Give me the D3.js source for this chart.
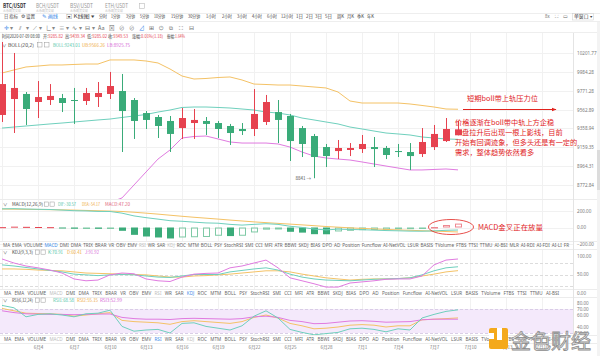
<!DOCTYPE html>
<html><head><meta charset="utf-8">
<script src="https://cdn.jsdelivr.net/npm/d3@7"></script>
<style>
body{margin:0;background:#fff;overflow:hidden}
svg{display:block;font-family:"Noto Sans CJK SC","Noto Sans",sans-serif}
</style></head><body>
<svg id="c" width="600" height="356"></svg>
<script>
// ---------------- DATA ----------------
const dates = ["2020-06-01","2020-06-02","2020-06-03","2020-06-04","2020-06-05","2020-06-06","2020-06-07","2020-06-08","2020-06-09","2020-06-10",
"2020-06-11","2020-06-12","2020-06-13","2020-06-14","2020-06-15","2020-06-16","2020-06-17","2020-06-18","2020-06-19","2020-06-20",
"2020-06-21","2020-06-22","2020-06-23","2020-06-24","2020-06-25","2020-06-26","2020-06-27","2020-06-28","2020-06-29","2020-06-30",
"2020-07-01","2020-07-02","2020-07-03","2020-07-04","2020-07-05","2020-07-06","2020-07-07","2020-07-08","2020-07-09"];
const open  = [9504,9679,9735,9646,9668,9690,9668,9657,9701,9735,9768,9668,9525,9482,9439,9363,9417,9439,9417,9385,9353,9353,9428,9536,9493,9363,9278,9162,9120,9131,9141,9162,9152,9120,9110,9089,9162,9225,9285.82];
const high  = [10331,10202,9757,9880,9846,9735,9802,9802,9869,9983,9960,9690,9547,9504,9493,9580,9569,9482,9439,9407,9417,9790,9724,9668,9515,9385,9300,9194,9236,9204,9289,9268,9173,9194,9204,9363,9396,9471,9439.34];
const low   = [9428,9310,9396,9471,9613,9536,9407,9613,9591,9679,9110,9247,9353,9257,9110,9247,9247,9289,9257,9183,9289,9278,9396,9204,9017,9058,8841,8955,9037,9068,9100,8955,9037,9058,8925,9058,9131,9215,9285.02];
const close = [9846,9802,9569,9701,9713,9635,9657,9746,9746,9824,9547,9439,9450,9385,9300,9471,9450,9407,9353,9310,9331,9515,9646,9450,9225,9194,9058,9068,9152,9152,9194,9141,9079,9110,9068,9215,9300,9353,9349.53];
const bollMid = [9363,9374,9385,9396,9407,9417,9428,9439,9450,9460,9477,9493,9509,9536,9558,9586,9591,9591,9586,9580,9569,9558,9536,9525,9504,9471,9450,9428,9407,9374,9353,9331,9310,9300,9289,9268,9257,9247,9243.01];
const bollUb  = [9971,10006,10040,10051,10063,10063,10069,10074,10074,10121,10121,10121,10109,10086,10017,9937,9903,9909,9920,9926,9892,9846,9841,9835,9835,9824,9813,9802,9757,9657,9635,9635,9635,9635,9624,9608,9591,9569,9566.26];
const bollLb  = [8500,8510,8520,8530,8540,8550,8560,8570,8580,8600,8644,8773,8904,9037,9131,9257,9273,9278,9247,9215,9204,9204,9204,9194,9162,9110,9068,9048,9037,9027,9007,8986,8965,8945,8925,8925,8930,8935,8925.75];
const macdDif  = [226,228,224,221,218,211,203.5,201,195,194,174,140.5,119.5,101.5,82.5,75.5,65,55.5,52,38,29,38,46,38,15,1,-18.5,-29,-20,-24,-27,-32,-37,-40,-44,-45,-41,-34,-30.57];
const macdDea  = [224,222,220,218,216,214,211,207,203,199,194,185,174,162,149,136,124,113,102,90,79,68,59,50,41,32,22,12,4,-4,-11,-17,-23,-29,-34,-39,-44,-49,-54.17];
const macdHist = [4,12,8,6,4,-6,-15,-12,-16,-10,-40,-89,-109,-121,-133,-121,-118,-115,-100,-104,-100,-60,-26,-24,-52,-62,-81,-82,-48,-40,-32,-30,-28,-22,-20,-12,6,30,47.2];
const kdjK = [76,73,69,65,61,57,51,49,47,49,50,49,46,43,42,46,50,50,50,57,61,65,68,62,51,43,38,35,34,33,35,37,38,39,41,49,60,68,70.91];
const kdjD = [65,65,64,62,61,60,57,54,53,52,51,50,49,46,43,43,46,47,49,51,54,57,60,60,57,51,46,41,38,35,37,38,38,39,41,46,51,57,60.41];
const kdjJ = [92,81,73,68,62,54,38,33,35,49,54,52,38,33,31,43,51,53,54,68,73,81,89,68,41,33,25,16,16,27,30,33,37,38,38,46,76,89,91.92];
const rsi1 = [76,72,57,61,62,60,57,62,63,68,41,33,35,36,30,46,47,41,38,35,42,58,67,55,36,31,27,29,31,37,38,36,32,37,35,55,61,66,68.58];
const rsi2 = [71,67,63,62.5,62,61,58,60,62,64,51,49,48,47,44.5,49,50.5,49,47.5,46,49,56,60,55,46,42,37,38,40,43,44,43,40,42,42,52,53,54,55.15];
const rsi3 = [67,64,62,61.5,61,61,60.5,61,61.5,61.7,56,54,53,53,52.5,54,54.5,54,53.5,53,54,57,58,56,51,49,45.5,46,48,50,50.5,49.5,48,48.5,49,52,53,53,52.99];
const priceTicks = [10201.77,9984.28,9771.28,9562.89,9358.94,9159.35,8964.31,8772.84];
const macdTicks = [200,0,-200];
const kdjTicks = [100,50,0];
const kdjLevels = [80,50,20];
const rsiTicks = [80,70,60,40,30];
const rsiBand = [30,70];
const dateTicks = ["2020-06-01","2020-06-04","2020-06-07","2020-06-10","2020-06-13","2020-06-16","2020-06-19","2020-06-22","2020-06-25","2020-06-28",
"2020-07-01","2020-07-04","2020-07-07","2020-07-10","2020-07-13","2020-07-16"];
const tabWordsA = ["MA","EMA","VOLUME","MACD","DMI","DMA","TRIX","BRAR","VR","OBV","EMV","RSI","WR","SAR","KDJ","ROC","MTM","BOLL","PSY","StochRSI","SMI","CCI","MFI","ATR","BBWI","SKDJ","BIAS","DPO","AD","Position","Funcflow","AI-NetVOL","LSUR","BASIS","TVolume","FTBS","TTSI","TTMU","AI-BSI","MLR","AI-RDI","AI-FDI","AI-LI","FR"];
const tabWordsB = ["MA","EMA","VOLUME","MACD","DMI","DMA","TRIX","BRAR","VR","OBV","EMV","RSI","WR","SAR","KDJ","ROC","MTM","BOLL","PSY","StochRSI","SMI","CCI","MFI","ATR","BBWI","SKDJ","BIAS","DPO","AD","Position","Funcflow","AI-NetVOL","LSUR","BASIS","TVolume","FTBS","TTSI","TTMU","AI-BSI"];
const symbols = ["BTC/USDT","BCH/USDT","BSV/USDT","ETH/USDT"];
const periods = ["分时","1分钟","3分钟","5分钟","10分钟","15分钟","30分钟","1小时","2小时","3小时","4小时","6小时","12小时","1日","2日","3日","5日","周K","月K","季K","年K"];

// ---------------- SETUP ----------------
const svg = d3.select("#c");
const RED="#e6424f", GREEN="#3aab79", TEAL="#6fd0bd", ORANGE="#f4c266", PINK="#e07be0";
const AX="#7a7a7a", GRID="#f1f1f1";
const PR = 573;
const parse = d3.utcParse("%Y-%m-%d");
const D = dates.map(parse);
const x = d3.scaleUtc().domain([Date.UTC(2020,5,1), Date.UTC(2020,6,19)]).range([2, 578]);
const yP = d3.scaleLog().domain([8772.84, 10201.77]).range([185, 53]);
const yM = d3.scaleLinear().domain([-200,200]).range([244,211]);
const yK = d3.scaleLinear().domain([0,100]).range([293,256]);
const yR = d3.scaleLinear().domain([30,70]).range([333,309]);

const defs = svg.append("defs");
function clip(id,y0,y1){defs.append("clipPath").attr("id",id).append("rect").attr("x",0).attr("y",y0).attr("width",PR).attr("height",y1-y0);}
clip("cm",33,199); clip("cma",199,241); clip("ck",249,289); clip("cr",297,335);

[[33,199],[199,241],[249,289],[297,335]].forEach(([a,b])=>{
  svg.append("g").selectAll("line").data(dateTicks.map(parse)).join("line")
   .attr("x1",d=>Math.round(x(d))+0.5).attr("x2",d=>Math.round(x(d))+0.5).attr("y1",a).attr("y2",b)
   .attr("stroke",GRID).attr("stroke-width",1);
});
svg.append("g").selectAll("line").data(priceTicks).join("line")
  .attr("x1",0).attr("x2",PR).attr("y1",d=>Math.round(yP(d))+0.5).attr("y2",d=>Math.round(yP(d))+0.5)
  .attr("stroke",GRID);
svg.append("g").selectAll("line").data(macdTicks).join("line")
  .attr("x1",0).attr("x2",PR).attr("y1",d=>Math.round(yM(d))+0.5).attr("y2",d=>Math.round(yM(d))+0.5)
  .attr("stroke",GRID);
svg.append("g").selectAll("line").data(kdjLevels).join("line")
  .attr("x1",0).attr("x2",PR).attr("y1",d=>Math.round(yK(d))+0.5).attr("y2",d=>Math.round(yK(d))+0.5)
  .attr("stroke","#dcdcdc").attr("stroke-dasharray","3,2");
svg.append("rect").attr("x",0).attr("width",PR).attr("y",yR(rsiBand[1])).attr("height",yR(rsiBand[0])-yR(rsiBand[1])).attr("fill","#f4e9fb");
svg.append("g").selectAll("line").data(rsiBand).join("line")
  .attr("x1",0).attr("x2",PR).attr("y1",d=>Math.round(yR(d))+0.5).attr("y2",d=>Math.round(yR(d))+0.5)
  .attr("stroke","#d9cde6").attr("stroke-dasharray","3,2");

[199,241,249,289,297,335,343].forEach(y=>svg.append("line").attr("x1",0).attr("x2",597).attr("y1",y+0.5).attr("y2",y+0.5).attr("stroke","#ececec"));
svg.append("line").attr("x1",PR+0.5).attr("x2",PR+0.5).attr("y1",33).attr("y2",343).attr("stroke","#e4e4e4");

// ---------------- MAIN ----------------
const gm = svg.append("g").attr("clip-path","url(#cm)");
const lineP = arr => d3.line().x((d,i)=>x(D[i])).y(d=>yP(d))(arr);
gm.append("path").attr("d",lineP(bollUb)).attr("fill","none").attr("stroke",ORANGE).attr("stroke-width",1);
gm.append("path").attr("d",lineP(bollMid)).attr("fill","none").attr("stroke",TEAL).attr("stroke-width",1);
gm.append("path").attr("d",lineP(bollLb)).attr("fill","none").attr("stroke",PINK).attr("stroke-width",1);
const cd = D.map((d,i)=>({d,o:open[i],h:high[i],l:low[i],c:close[i]}));
const cg = gm.append("g").selectAll("g").data(cd).join("g");
cg.append("line").attr("x1",d=>Math.round(x(d.d))+0.5).attr("x2",d=>Math.round(x(d.d))+0.5)
  .attr("y1",d=>yP(d.h)).attr("y2",d=>yP(d.l)).attr("stroke",d=>d.c>=d.o?RED:GREEN).attr("stroke-width",1);
cg.append("rect").attr("x",d=>Math.round(x(d.d))-3).attr("width",7)
  .attr("y",d=>yP(Math.max(d.o,d.c))).attr("height",d=>Math.max(1,yP(Math.min(d.o,d.c))-yP(Math.max(d.o,d.c))))
  .attr("fill",d=>d.c>=d.o?RED:GREEN);
const iLow = low.indexOf(d3.min(low));
svg.append("text").attr("x",x(D[iLow])-3).attr("y",yP(low[iLow])+1.5).attr("text-anchor","end")
  .attr("font-size",4.5).attr("fill","#555").text(d3.format(".0f")(low[iLow])+" →");

// ---------------- MACD ----------------
const gma = svg.append("g").attr("clip-path","url(#cma)");
const hb = macdHist.map((h,i)=>({d:D[i],h,rise: i>0 && h>macdHist[i-1]}));
gma.selectAll("rect").data(hb).join("rect")
  .attr("x",d=>Math.round(x(d.d))-3+(d.rise?0.5:0)).attr("width",d=>d.rise?6:7)
  .attr("y",d=>yM(Math.max(d.h,0))+(d.rise?0.5:0))
  .attr("height",d=>Math.max(d.rise?0.5:1,yM(Math.min(d.h,0))-yM(Math.max(d.h,0))-(d.rise?1:0)))
  .attr("fill",d=>d.rise?"none":(d.h>=0?RED:GREEN))
  .attr("stroke",d=>d.rise?(d.h>=0?"#ee8790":"#7fcaa6"):"none").attr("stroke-width",1);
const lineM = arr => d3.line().x((d,i)=>x(D[i])).y(d=>yM(d))(arr);
gma.append("path").attr("d",lineM(macdDea)).attr("fill","none").attr("stroke",ORANGE);
gma.append("path").attr("d",lineM(macdDif)).attr("fill","none").attr("stroke",TEAL);

// ---------------- KDJ ----------------
const gk = svg.append("g").attr("clip-path","url(#ck)");
const lineK = arr => d3.line().x((d,i)=>x(D[i])).y(d=>yK(d))(arr);
gk.append("path").attr("d",lineK(kdjD)).attr("fill","none").attr("stroke",ORANGE);
gk.append("path").attr("d",lineK(kdjK)).attr("fill","none").attr("stroke",TEAL);
gk.append("path").attr("d",lineK(kdjJ)).attr("fill","none").attr("stroke",PINK);

// ---------------- RSI ----------------
const gr = svg.append("g").attr("clip-path","url(#cr)");
const lineR = arr => d3.line().x((d,i)=>x(D[i])).y(d=>yR(d))(arr);
gr.append("path").attr("d",lineR(rsi2)).attr("fill","none").attr("stroke",ORANGE);
gr.append("path").attr("d",lineR(rsi3)).attr("fill","none").attr("stroke",PINK);
gr.append("path").attr("d",lineR(rsi1)).attr("fill","none").attr("stroke",TEAL);

// ---------------- AXES ----------------
function styleAx(g){g.select(".domain").remove();g.selectAll("text").attr("font-size",4.6).attr("fill",AX).attr("font-family","Noto Sans, sans-serif");g.selectAll(".tick line").remove();}
svg.append("g").attr("transform","translate(576,0)").call(d3.axisRight(yP).tickValues(priceTicks).tickFormat(d3.format(".2f")).tickSize(0).tickPadding(1)).call(styleAx);
svg.append("g").attr("transform","translate(576,0)").call(d3.axisRight(yM).tickValues(macdTicks).tickFormat(d3.format(".2f")).tickSize(0).tickPadding(1)).call(styleAx);
svg.append("g").attr("transform","translate(576,0)").call(d3.axisRight(yK).tickValues(kdjTicks).tickFormat(d3.format(".2f")).tickSize(0).tickPadding(1)).call(styleAx);
svg.append("g").attr("transform","translate(576,0)").call(d3.axisRight(yR).tickValues(rsiTicks).tickFormat(d3.format(".2f")).tickSize(0).tickPadding(1)).call(styleAx);
svg.append("g").attr("transform","translate(0,346)").call(d3.axisBottom(x).tickValues(dateTicks.slice(1).map(parse))
   .tickFormat(d=>(d.getUTCMonth()+1)+"月"+d.getUTCDate()).tickSize(0).tickPadding(0)).call(styleAx)
   .selectAll("text").attr("font-family","Noto Sans CJK SC, sans-serif");

// ---------------- TAB ROWS ----------------
function tabRow(words,y,x0,x1,active,used){
  const g = svg.append("g");
  const t = g.selectAll("text").data(words).join("text").attr("y",y).attr("font-size",4.6)
    .attr("font-family","Noto Sans, sans-serif")
    .attr("fill",d=>d===active?"#3d8be8":(used.includes(d)?"#bdbdbd":"#666")).text(d=>d);
  const ws = t.nodes().map(n=>n.getComputedTextLength());
  const gap = (x1-x0-d3.sum(ws))/(words.length-1);
  let cx=x0; t.attr("x",(d,i)=>{const v=cx; cx+=ws[i]+gap; return v;});
}
tabRow(tabWordsA,247,3,569,"MACD",["RSI","KDJ"]);
tabRow(tabWordsB,295,4,559,"KDJ",["MACD","RSI"]);
tabRow(tabWordsB,341,4,559,"RSI",["MACD","KDJ"]);

// ---------------- HEADERS ----------------
function txt(x,y,s,col,fs,len){
  const t = svg.append("text").attr("x",x).attr("y",y).attr("font-size",fs||5).attr("fill",col||"#444").text(s);
  if(len) t.attr("textLength",len).attr("lengthAdjust","spacingAndGlyphs");
  return t;
}
symbols.forEach((s,i)=>{
  const xx=[3,36,70,105][i];
  txt(xx,7.5,s,i===0?"#333":"#999",5.6,23).attr("font-weight",i===0?"bold":"normal");
  txt(xx,12,"火币现货交易","#b5b5b5",3.2,18);
});
svg.append("rect").attr("x",139.5).attr("y",3.5).attr("width",5).attr("height",5).attr("fill","none").attr("stroke","#bbb").attr("stroke-width",0.6);
svg.append("line").attr("x1",0).attr("x2",600).attr("y1",13.5).attr("y2",13.5).attr("stroke","#eee");
txt(4,18.3,"日 指标","#444",4.6,14);
txt(21,18.3,"⚙ 设置","#444",4.6,14);
txt(42,18.3,"✎ 画线","#3d8be8",4.6,16);
txt(66,18.3,"▣ K线图 ▾","#444",4.6,29);
const pxs=[[99,8],[111,9],[126,9],[140,9],[154,11],[171,12],[188,12],[206,10],[222,10],[237,10],[252,10],[267,10],[281,12],[296,7],[306,7],[315,7],[325,7],[337,7],[347,7],[357,7],[367,7]];
periods.forEach((p,i)=>txt(pxs[i][0],18.3,p,"#444",4.3,pxs[i][1]));
txt(545,18.3,"8x","#666",4.3); txt(555,18.3,"⛶","#666",4.6); txt(563,18.3,"▭","#666",4.6);
svg.append("rect").attr("x",572.5).attr("y",13.5).attr("width",21).attr("height",6.5).attr("fill","none").attr("stroke","#ccc").attr("stroke-width",0.5);
txt(574,18.3,"单窗口 ▾","#444",4.2,18);
svg.append("line").attr("x1",0).attr("x2",600).attr("y1",21.5).attr("y2",21.5).attr("stroke","#eee");
const tools=[["✛",4,"#3d8be8"],["▾",10,"#888"],["⫽",19,"#666"],["▾",26,"#888"],["⟋",33,"#666"],["▾",39,"#888"],["∟",46,"#666"],["▾",52,"#888"],["≡",59,"#666"],["▾",66,"#888"],["∿",72,"#666"],["▾",79,"#888"],["⊟",85,"#666"],["▾",92,"#888"],["Aa",98,"#666"],["⊠",109,"#666"],["⊘",119,"#666"],["⊘",129,"#666"],["⊿",139,"#3d8be8"],["⊞",149,"#666"],["⏻",159,"#666"],["⧉",169,"#666"],["⛶",179,"#666"],["⊟",189,"#666"]];
tools.forEach(t=>txt(t[1],29.5,t[0],t[2],5.5));
svg.append("line").attr("x1",0).attr("x2",600).attr("y1",32.5).attr("y2",32.5).attr("stroke","#eee");
const info=[["时间2020-07-09 08:00",2,null,38],["开:",43,"9285.82",20],["高:",65,"9439.34",20],["低:",87,"9285.02",20],["收:",108,"9349.53",20],["涨幅:",132,"0.01%(1.18)",31],["振幅:",167,"1.64%",18]];
info.forEach(([a,xx,v,l])=>{const t=txt(xx,38,a,"#444",4.4,l);if(v)t.append("tspan").attr("fill",RED).text(v);});
txt(2,46.5,"∨","#666",4.4);
txt(8,46.5,"BOLL(20,2)","#444",4.4,26);
svg.append("rect").attr("x",37.5).attr("y",42.5).attr("width",4.5).attr("height",4.5).attr("fill","none").attr("stroke","#999").attr("stroke-width",0.5);
svg.append("rect").attr("x",44.5).attr("y",42.5).attr("width",4.5).attr("height",4.5).attr("fill","none").attr("stroke","#999").attr("stroke-width",0.5);
txt(53,46.5,"BOLL:"+bollMid[38],"#4cc3a5",4.4,27);
txt(82,46.5,"UB:"+bollUb[38],"#eea93a",4.4,23);
txt(107,46.5,"LB:"+bollLb[38],"#d562d5",4.4,23);
function subHead(y,name,nl,ix,items){
  txt(3,y,"∨","#666",4.4);
  txt(12,y,name,"#444",4.4,nl);
  svg.append("rect").attr("x",ix).attr("y",y-4).attr("width",4.2).attr("height",4.2).attr("fill","none").attr("stroke","#999").attr("stroke-width",0.5);
  svg.append("rect").attr("x",ix+5.5).attr("y",y-4).attr("width",4.2).attr("height",4.2).attr("fill","none").attr("stroke","#999").attr("stroke-width",0.5);
  items.forEach(([s,xx,c,l])=>txt(xx,y,s,c,4.4,l));
}
subHead(206,"MACD(12,26,9)",31,44.5,[["DIF:"+macdDif[38].toFixed(2),58,"#4cc3a5",18],["DEA:"+macdDea[38].toFixed(2),82,"#eea93a",18],["MACD:"+macdHist[38].toFixed(2),105,"#e0607a",25]]);
subHead(254,"KDJ(9,3,3)",21,35.5,[["K:"+kdjK[38].toFixed(2),48,"#4cc3a5",15],["D:"+kdjD[38].toFixed(2),67,"#eea93a",15],["J:"+kdjJ[38].toFixed(2),85,"#d562d5",14]]);
subHead(302,"RSI(6,12,24)",21,35.5,[["RSI1:"+rsi1[38].toFixed(2),53,"#4cc3a5",21],["RSI2:"+rsi2[38].toFixed(2),77,"#eea93a",21],["RSI3:"+rsi3[38].toFixed(2),100,"#d562d5",22]]);

svg.append("rect").attr("x",597).attr("y",22).attr("width",3).attr("height",334).attr("fill","#f3f3f3");
svg.append("rect").attr("x",597).attr("y",150).attr("width",3).attr("height",40).attr("fill","#dcdcdc");

// ---------------- ANNOTATIONS ----------------
const AR="#e1231e";
defs.append("marker").attr("id","ah").attr("viewBox","0 0 10 10").attr("refX",9).attr("refY",5).attr("markerWidth",5).attr("markerHeight",5).attr("orient","auto")
  .append("path").attr("d","M0,1L10,5L0,9Z").attr("fill",AR);
txt(467,101,"短期boll带上轨压力位",AR,7,71);
svg.append("line").attr("x1",463).attr("x2",556).attr("y1",109.5).attr("y2",109.5).attr("stroke",AR).attr("stroke-width",1).attr("marker-end","url(#ah)");
const note=["价格逐渐在boll带中轨上方企稳","盘拉升后出现一根上影线，目前","开始有回调迹象，但多头还是有一定的","需求，整体趋势依然看多"];
note.forEach((s,i)=>txt(i===1?462:455,124.5+i*10,s,AR,7.2));
svg.append("ellipse").attr("cx",451).attr("cy",227).attr("rx",22.5).attr("ry",7.5).attr("fill","none").attr("stroke",AR).attr("stroke-width",0.8);
txt(478,229.5,"MACD金叉正在放量",AR,7.4,65);

// ---------------- WATERMARK ----------------
const lg = svg.append("g");
lg.append("rect").attr("x",489).attr("y",328).attr("width",19).attr("height",21).attr("rx",2).attr("fill","#f4a91b");
lg.append("rect").attr("x",497).attr("y",328).attr("width",5).attr("height",12).attr("fill","#fff");
lg.append("rect").attr("x",489).attr("y",333).attr("width",5).attr("height",6).attr("fill","#fff");
lg.append("text").attr("x",511).attr("y",349).attr("font-size",20).attr("fill","#eeeeee").attr("stroke","#8c8c8c").attr("stroke-width",0.8)
  .attr("font-family","Noto Sans CJK SC").text("金色财经");
</script>
</body></html>
